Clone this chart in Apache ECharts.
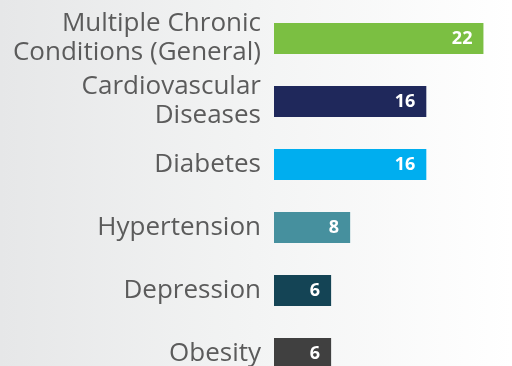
<!DOCTYPE html>
<html>
<head>
<meta charset="utf-8">
<script src="https://cdn.jsdelivr.net/npm/echarts@6/dist/echarts.min.js"></script>
<style>
html,body{margin:0;padding:0;overflow:hidden;width:512px;height:366px;}
#c{width:512px;height:385px;background:linear-gradient(to right,#e6e7e8 0%,#f3f4f4 50%,#ffffff 100%);}
</style>
</head>
<body>
<div id="c"></div>
<script>
const categories = ["Multiple Chronic\nConditions (General)", "Cardiovascular\nDiseases", "Diabetes", "Hypertension", "Depression", "Obesity"];
const values = [22, 16, 16, 8, 6, 6];
const colors = ["#7bbf42", "#1f285b", "#00aeef", "#46909e", "#144455", "#404040"];

const chart = echarts.init(document.getElementById('c'), null, {renderer: 'canvas'});
chart.setOption({
  animation: false,
  backgroundColor: 'transparent',
  grid: {left: 274, right: 0, top: 7, bottom: 0, containLabel: false, outerBoundsMode: 'none'},
  xAxis: {type: 'value', min: 0, max: 25, show: false},
  yAxis: {
    type: 'category', data: categories, inverse: true,
    axisLine: {show: false}, axisTick: {show: false}, splitLine: {show: false},
    axisLabel: {
      margin: 13, color: '#5b5b5b', fontFamily: 'Open Sans', fontSize: 26,
      lineHeight: 29, align: 'right'
    }
  },
  series: [{
    type: 'bar', barWidth: 31,
    data: values.map((v, i) => ({value: v, itemStyle: {color: colors[i]}})),
    label: {
      show: true, position: 'insideRight', distance: 11,
      color: '#ffffff', fontFamily: 'Open Sans', fontWeight: 'bold', fontSize: 18
    }
  }]
});
</script>
</body>
</html>
